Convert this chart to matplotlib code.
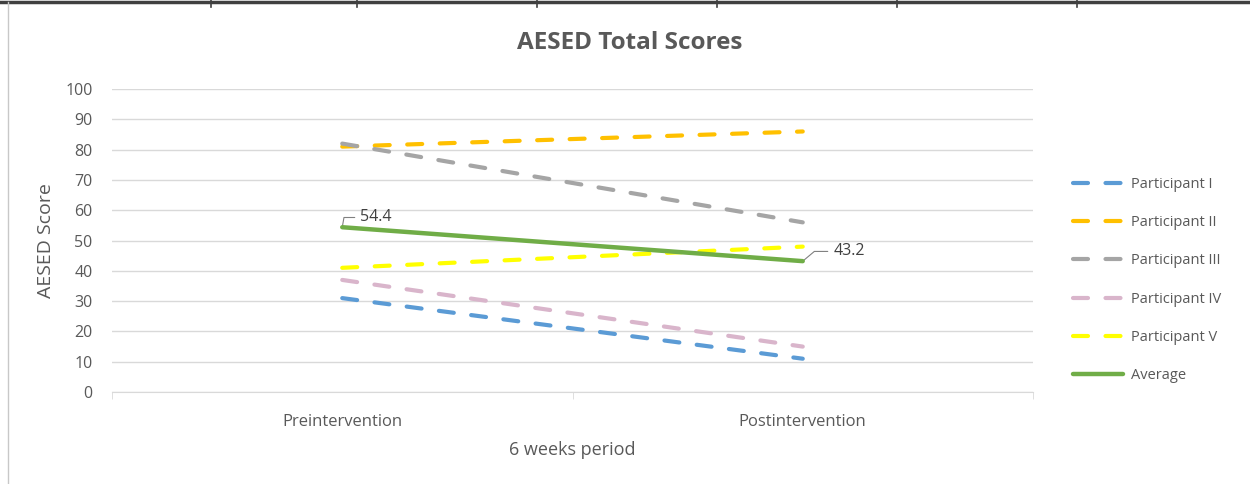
import matplotlib.pyplot as plt
import numpy as np

plt.rcParams['font.family'] = ['Open Sans', 'DejaVu Sans']

# AESED scores per participant, before and after the 6 week period
periods = ['Preintervention', 'Postintervention']
participants = ['Participant I', 'Participant II', 'Participant III',
                'Participant IV', 'Participant V']
scores_pre = [31, 81, 82, 37, 41]
scores_post = [11, 86, 56, 15, 48]
average = [54.4, 43.2]

colors = ['#5B9BD5', '#FFC000', '#A5A5A5', '#D9B5CB', '#FFFF00']
avg_color = '#70AD47'
text_color = '#595959'
grid_color = '#D9D9D9'

fig = plt.figure(figsize=(12.5, 4.84), dpi=100)
ax = fig.add_axes([0.0896, 0.190, 0.7368, 0.626])

x = np.arange(len(periods)) + 0.5
for name, pre, post, c in zip(participants, scores_pre, scores_post, colors):
    ax.plot(x, [pre, post], color=c, lw=3.0, dashes=(3.6, 4.2),
            dash_capstyle='round', solid_capstyle='round', label=name)
ax.plot(x, average, color=avg_color, lw=3.2, solid_capstyle='round',
        label='Average', zorder=5)

# data labels with short leader lines
ax.annotate(f'{average[0]}', xy=(x[0], average[0]), xytext=(13, 7),
            textcoords='offset points', fontsize=11.5, color='#404040',
            va='center', ha='left',
            arrowprops=dict(arrowstyle='-', color='#808080', lw=0.8,
                            connectionstyle='angle,angleA=0,angleB=80,rad=0',
                            shrinkA=2, shrinkB=1))
ax.annotate(f'{average[1]}', xy=(x[1], average[1]), xytext=(22, 7),
            textcoords='offset points', fontsize=11.5, color='#404040',
            va='center', ha='left',
            arrowprops=dict(arrowstyle='-', color='#808080', lw=0.8,
                            connectionstyle='angle,angleA=0,angleB=40,rad=0',
                            shrinkA=2, shrinkB=1))

ax.set_xlim(0, 2)
ax.set_ylim(0, 100)
ax.set_yticks(np.arange(0, 101, 10))
ax.set_xticks(x)
ax.set_xticklabels(periods)
ax.set_xticks([0, 1, 2], minor=True)
ax.yaxis.grid(True, color=grid_color, lw=1)
ax.set_axisbelow(True)
for side in ['top', 'right', 'left']:
    ax.spines[side].set_visible(False)
ax.spines['bottom'].set_color(grid_color)
ax.tick_params(axis='y', length=0, pad=14, labelsize=11.5, labelcolor=text_color)
ax.tick_params(axis='x', which='major', length=0, pad=16, labelsize=12,
               labelcolor=text_color)
ax.tick_params(axis='x', which='minor', length=5, color=grid_color)
ax.set_xlabel('6 weeks period', fontsize=13, color=text_color, labelpad=8)
ax.set_ylabel('AESED Score', fontsize=14, color=text_color, labelpad=7)

fig.text(0.504, 0.911, 'AESED Total Scores', ha='center', va='center',
         fontsize=17.5, fontweight='bold', color=text_color)

leg = fig.legend(loc='upper left', bbox_to_anchor=(0.848, 0.662),
                 frameon=False, fontsize=10.5, labelcolor=text_color,
                 handlelength=3.4, labelspacing=1.6, handletextpad=0.6)

# page border around the figure
fig.add_artist(plt.Line2D([0, 1], [0.995, 0.995], color='#404040', lw=2.5))
for xt in [211, 357, 537, 717, 897, 1077]:
    fig.add_artist(plt.Line2D([xt / 1250, xt / 1250], [0.986, 1.0],
                              color='#404040', lw=1.2))
fig.add_artist(plt.Line2D([0.0066, 0.0066], [0, 0.995], color='#C8C8C8', lw=1))

fig.savefig('out.png', dpi=100)
